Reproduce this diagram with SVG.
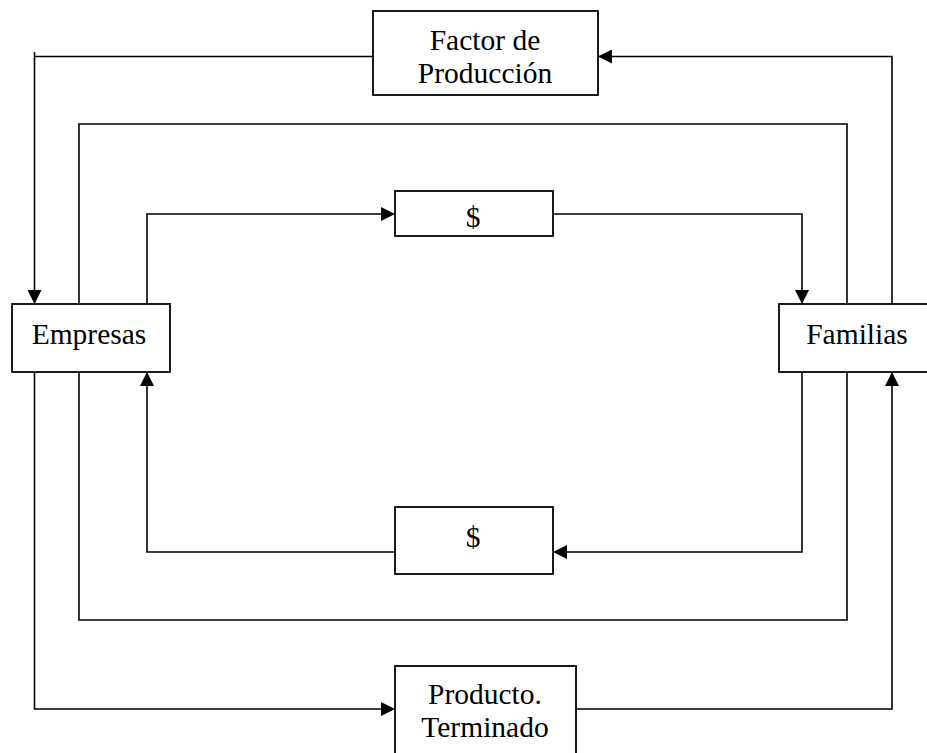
<svg xmlns="http://www.w3.org/2000/svg" width="927" height="753" viewBox="0 0 927 753">
<style>
.box{fill:#fff;stroke:#000;stroke-width:1.8}
.lbl{font-family:"Liberation Serif","Times New Roman",serif;font-size:29.5px;fill:#000;text-anchor:middle}
.c{fill:none;stroke:#000;stroke-width:1.6}
</style>
<defs>
<marker id="ah" viewBox="0 0 14 14" refX="14" refY="7" markerWidth="14" markerHeight="14" orient="auto" markerUnits="userSpaceOnUse">
<path d="M0,0 L14,7 L0,14 z" fill="#000"/>
</marker>
</defs>
<rect width="927" height="753" fill="#fff"/>
<g id="connectors">
<path class="c" d="M373,56.5 H34.5 M34.5,52 V304" marker-end="url(#ah)"/>
<path class="c" d="M892,304 V56.5 H598" marker-end="url(#ah)"/>
<path class="c" d="M79,304 V124 H847 V304"/>
<path class="c" d="M79,372 V620 H847 V372"/>
<path class="c" d="M147,304 V214 H395" marker-end="url(#ah)"/>
<path class="c" d="M553,214 H802 V304" marker-end="url(#ah)"/>
<path class="c" d="M802,372 V552 H553" marker-end="url(#ah)"/>
<path class="c" d="M395,552 H147 V372" marker-end="url(#ah)"/>
<path class="c" d="M34.5,372 V709 H395" marker-end="url(#ah)"/>
<path class="c" d="M576,709 H892 V372" marker-end="url(#ah)"/>
</g>
<g id="factor">
<rect class="box" x="373" y="11" width="225" height="84"/>
<text class="lbl" x="485" y="50">Factor de</text>
<text class="lbl" x="485" y="83">Producción</text>
</g>
<g id="empresas">
<rect class="box" x="12" y="304" width="158" height="68"/>
<text class="lbl" x="89" y="344">Empresas</text>
</g>
<g id="familias">
<rect class="box" x="779" y="304" width="170" height="68"/>
<text class="lbl" x="857" y="344">Familias</text>
</g>
<g id="dinero-top">
<rect class="box" x="395" y="191" width="158" height="45"/>
<text class="lbl" x="473" y="227">$</text>
</g>
<g id="dinero-bottom">
<rect class="box" x="395" y="507" width="158" height="67"/>
<text class="lbl" x="473" y="547">$</text>
</g>
<g id="producto">
<rect class="box" x="395" y="666" width="181" height="100"/>
<text class="lbl" x="485" y="704">Producto.</text>
<text class="lbl" x="485" y="737">Terminado</text>
</g>
</svg>
